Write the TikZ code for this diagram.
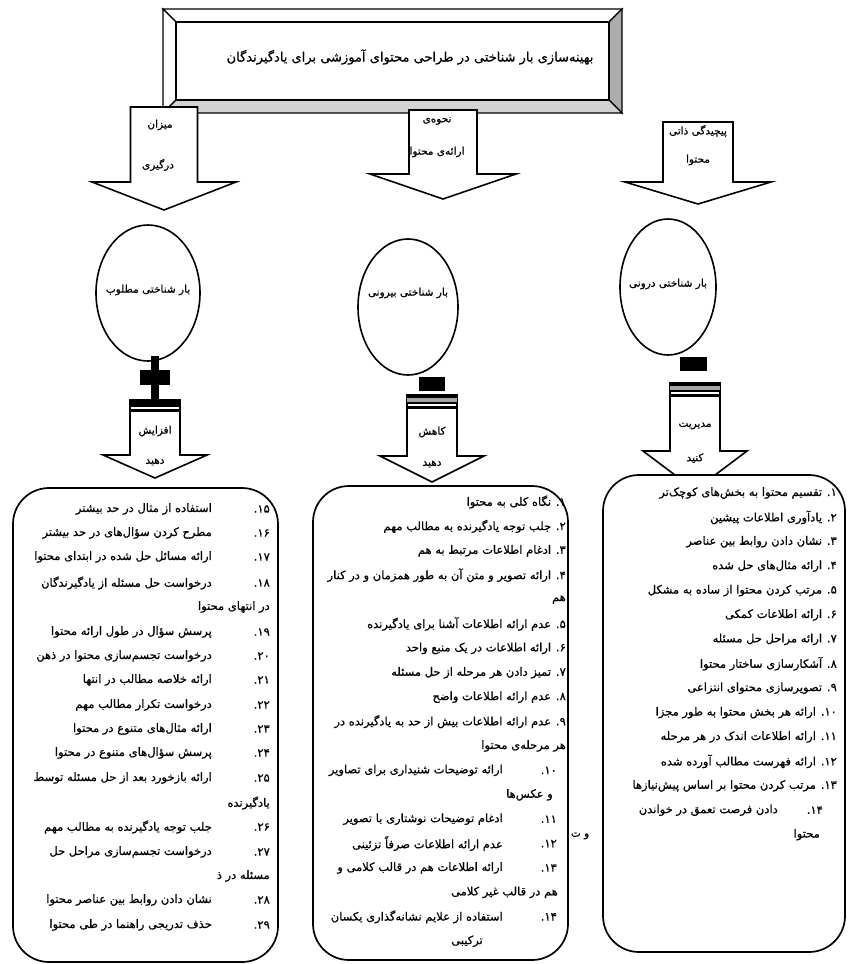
\documentclass[tikz,border=0pt]{standalone}
\usepackage{fontspec}
\usetikzlibrary{shapes.geometric}
\newfontfamily\fa[Script=Arabic,FakeBold=0.6]{DejaVu Sans}
\TeXXeTstate=1
\newcommand{\fat}[1]{\beginR #1\endR}
\newcommand{\nm}[1]{\beginL #1\endL{}}
\newcommand{\dnarr}[6]{% cx, top, shaft half, head top, head half, tip
  \filldraw[blockarr] ({#1-#3},#2) -- ({#1+#3},#2) -- ({#1+#3},#4) -- ({#1+#5},#4) -- (#1,#6) -- ({#1-#5},#4) -- ({#1-#3},#4) -- cycle;}
\begin{document}
\begin{tikzpicture}[x=1pt,y=-1pt,
  blockarr/.style={draw=black,fill=white,line width=1.6pt,line join=miter},
  lbox/.style={draw=black,fill=white,line width=1.7pt,rounded corners=36pt},
  bev/.style={draw=black,line width=1.3pt,line join=miter},
  li/.style={anchor=east,inner sep=0pt,font=\fa\fontsize{11.5}{13}\selectfont},
  lc/.style={inner sep=0pt,font=\fa\fontsize{11.5}{13}\selectfont},
  lbl/.style={inner sep=0pt,font=\fa\fontsize{10.5}{12}\selectfont},
  circ/.style={ellipse,draw=black,fill=white,line width=1.6pt,inner sep=0pt},
]
\useasboundingbox (0,0) rectangle (847,964);

% ---- title (bevel frame)
\filldraw[bev,fill=white] (163,9) -- (622,9) -- (609,22) -- (176,22) -- cycle;
\filldraw[bev,fill=white] (163,9) -- (176,22) -- (176,100) -- (163,113) -- cycle;
\filldraw[bev,fill=gray!65] (622,9) -- (622,113) -- (609,100) -- (609,22) -- cycle;
\filldraw[bev,fill=gray!35] (163,113) -- (622,113) -- (609,100) -- (176,100) -- cycle;
\draw[bev,fill=white] (176,22) rectangle (609,100);
\node[lbl,font=\fa\fontsize{13}{15}\selectfont] (title) at (410,57) {\fat{بهینه‌سازی بار شناختی در طراحی محتوای آموزشی برای یادگیرندگان}};

% ---- upper arrows
\dnarr{164}{107}{33.5}{182}{72}{210}
\dnarr{443}{110}{34}{174}{73}{199}
\dnarr{698}{122}{35}{182}{73}{204}
\node[lbl] (a1a) at (160,125) {\fat{میزان}};
\node[lbl] (a1b) at (158,165) {\fat{درگیری}};
\node[lbl] (a2a) at (437,121) {\fat{نحوه‌ی}};
\node[lbl] (a2b) at (437,152) {\fat{ارائه‌ی محتوا}};
\node[lbl] (a3a) at (698,131) {\fat{پیچیدگی ذاتی}};
\node[lbl] (a3b) at (698,160) {\fat{محتوا}};

% ---- circles
\node[circ,minimum width=104pt,minimum height=136pt] (c1) at (148,293) {};
\node[circ,minimum width=100pt,minimum height=136pt] (c2) at (408,307) {};
\node[circ,minimum width=96pt,minimum height=136pt] (c3) at (668,287) {};
\node[lbl] (c1t) at (148,290) {\fat{بار شناختی مطلوب}};
\node[lbl] (c2t) at (408,293) {\fat{بار شناختی بیرونی}};
\node[lbl] (c3t) at (668,284) {\fat{بار شناختی درونی}};

% ---- lower arrows
\dnarr{155}{400}{25}{455}{52}{478}
\fill[black] (130,400) rectangle (180,407);
\fill[black] (130,409) rectangle (180,412);
\fill[black] (151,356) rectangle (159,400);
\fill[black] (140,370) rectangle (170,385);

\dnarr{432}{395}{25}{456}{52}{482}
\fill[black] (407,395) rectangle (457,398);
\fill[gray!70] (407,398) rectangle (457,402);
\fill[black] (407,402) rectangle (457,404);
\fill[black] (407,406) rectangle (457,409);
\fill[black] (419,377) rectangle (445,391);

\dnarr{695}{383}{25}{451}{52}{490}
\fill[black] (670,383) rectangle (720,386);
\fill[gray!70] (670,386) rectangle (720,390);
\fill[black] (670,390) rectangle (720,392);
\fill[black] (670,394) rectangle (720,397);
\fill[black] (680,357) rectangle (707,371);

\node[lbl] (d1a) at (155,431) {\fat{افزایش}};
\node[lbl] (d1b) at (155,462) {\fat{دهید}};
\node[lbl] (d2a) at (432,432) {\fat{کاهش}};
\node[lbl] (d2b) at (432,464) {\fat{دهید}};
\node[lbl] (d3a) at (695,426) {\fat{مدیریت}};
\node[lbl] (d3b) at (695,458) {\fat{کنید}};

% ---- list boxes
\draw[lbox] (13,488) rectangle (278,962);
\draw[lbox] (313,486) rectangle (568,960);
\draw[lbox] (603,475) rectangle (845,952);

% ---- stray fragment between boxes
\node[lbl] (frag) at (580,836) {\fat{و ت}};

% left list (15-29)
\foreach \yy/\nn/\tx [count=\i] in {
 509/۱۵/استفاده از مثال در حد بیشتر,
 533/۱۶/مطرح کردن سؤال‌های در حد بیشتر,
 557/۱۷/ارائه مسائل حل شده در ابتدای محتوا,
 583/۱۸/درخواست حل مسئله از یادگیرندگان,
 632/۱۹/پرسش سؤال در طول ارائه محتوا,
 656/۲۰/درخواست تجسم‌سازی محتوا در ذهن,
 680/۲۱/ارائه خلاصه مطالب در انتها,
 705/۲۲/درخواست تکرار مطالب مهم,
 729/۲۳/ارائه مثال‌های متنوع در محتوا,
 753/۲۴/پرسش سؤال‌های متنوع در محتوا,
 778/۲۵/ارائه بازخورد بعد از حل مسئله توسط,
 827/۲۶/جلب توجه یادگیرنده به مطالب مهم,
 852/۲۷/درخواست تجسم‌سازی مراحل حل,
 900/۲۸/نشان دادن روابط بین عناصر محتوا,
 925/۲۹/حذف تدریجی راهنما در طی محتوا}{
  \node[li] (ln\i) at (270,\yy) {\fat{\nm{\nn}.}};
  \node[li] (lt\i) at (212,\yy) {\fat{\tx}};
}
\node[li] (lw1) at (270,607) {\fat{در انتهای محتوا}};
\node[li] (lw2) at (270,803) {\fat{یادگیرنده}};
\node[li] (lw3) at (270,876) {\fat{مسئله در ذ}};

% middle list (1-14)
\foreach \yy/\tx [count=\i] in {
 502/\nm{۱}. نگاه کلی به محتوا,
 526.4/\nm{۲}. جلب توجه یادگیرنده به مطالب مهم,
 550.8/\nm{۳}. ادغام اطلاعات مرتبط به هم,
 575.2/\nm{۴}. ارائه تصویر و متن آن به طور همزمان و در کنار,
 599.6/هم,
 624/\nm{۵}. عدم ارائه اطلاعات آشنا برای یادگیرنده,
 648.4/\nm{۶}. ارائه اطلاعات در یک منبع واحد,
 672.8/\nm{۷}. تمیز دادن هر مرحله از حل مسئله,
 697.2/\nm{۸}. عدم ارائه اطلاعات واضح,
 721.6/\nm{۹}. عدم ارائه اطلاعات بیش از حد به یادگیرنده در,
 746/هر مرحله‌ی محتوا}{
  \node[li] (mt\i) at (566,\yy) {\fat{\tx}};
}
\foreach \yy/\nn/\tx [count=\i] in {
 770.4/۱۰/ارائه توضیحات شنیداری برای تصاویر,
 819.2/۱۱/ادغام توضیحات نوشتاری با تصویر,
 843.6/۱۲/عدم ارائه اطلاعات صرفاً تزئینی,
 868/۱۳/ارائه اطلاعات هم در قالب کلامی و,
 916.8/۱۴/استفاده از علایم نشانه‌گذاری یکسان}{
  \node[li] (mn\i) at (557,\yy) {\fat{\nm{\nn}.}};
  \node[li] (mx\i) at (503,\yy) {\fat{\tx}};
}
\node[li] (mw1) at (553,794.8) {\fat{و عکس‌ها}};
\node[li] (mw2) at (558,892.4) {\fat{هم در قالب غیر کلامی}};
\node[lc] (mw3) at (467,941.2) {\fat{ترکیبی}};

% right list (1-14)
\foreach \yy/\tx [count=\i] in {
 493/\nm{۱}. تقسیم محتوا به بخش‌های کوچک‌تر,
 517.4/\nm{۲}. یادآوری اطلاعات پیشین,
 541.8/\nm{۳}. نشان دادن روابط بین عناصر,
 566.2/\nm{۴}. ارائه مثال‌های حل شده,
 590.6/\nm{۵}. مرتب کردن محتوا از ساده به مشکل,
 615/\nm{۶}. ارائه اطلاعات کمکی,
 639.4/\nm{۷}. ارائه مراحل حل مسئله,
 663.8/\nm{۸}. آشکارسازی ساختار محتوا,
 688.2/\nm{۹}. تصویرسازی محتوای انتزاعی,
 712.6/\nm{۱۰}. ارائه هر بخش محتوا به طور مجزا,
 737/\nm{۱۱}. ارائه اطلاعات اندک در هر مرحله,
 761.4/\nm{۱۲}. ارائه فهرست مطالب آورده شده,
 785.8/\nm{۱۳}. مرتب کردن محتوا بر اساس پیش‌نیازها}{
  \node[li] (rt\i) at (837,\yy) {\fat{\tx}};
}
\node[li] (rn14) at (823,810.2) {\fat{\nm{۱۴}.}};
\node[li] (rx14) at (778,810.2) {\fat{دادن فرصت تعمق در خواندن}};
\node[li] (rw1) at (820,834.6) {\fat{محتوا}};
\end{tikzpicture}
\end{document}
